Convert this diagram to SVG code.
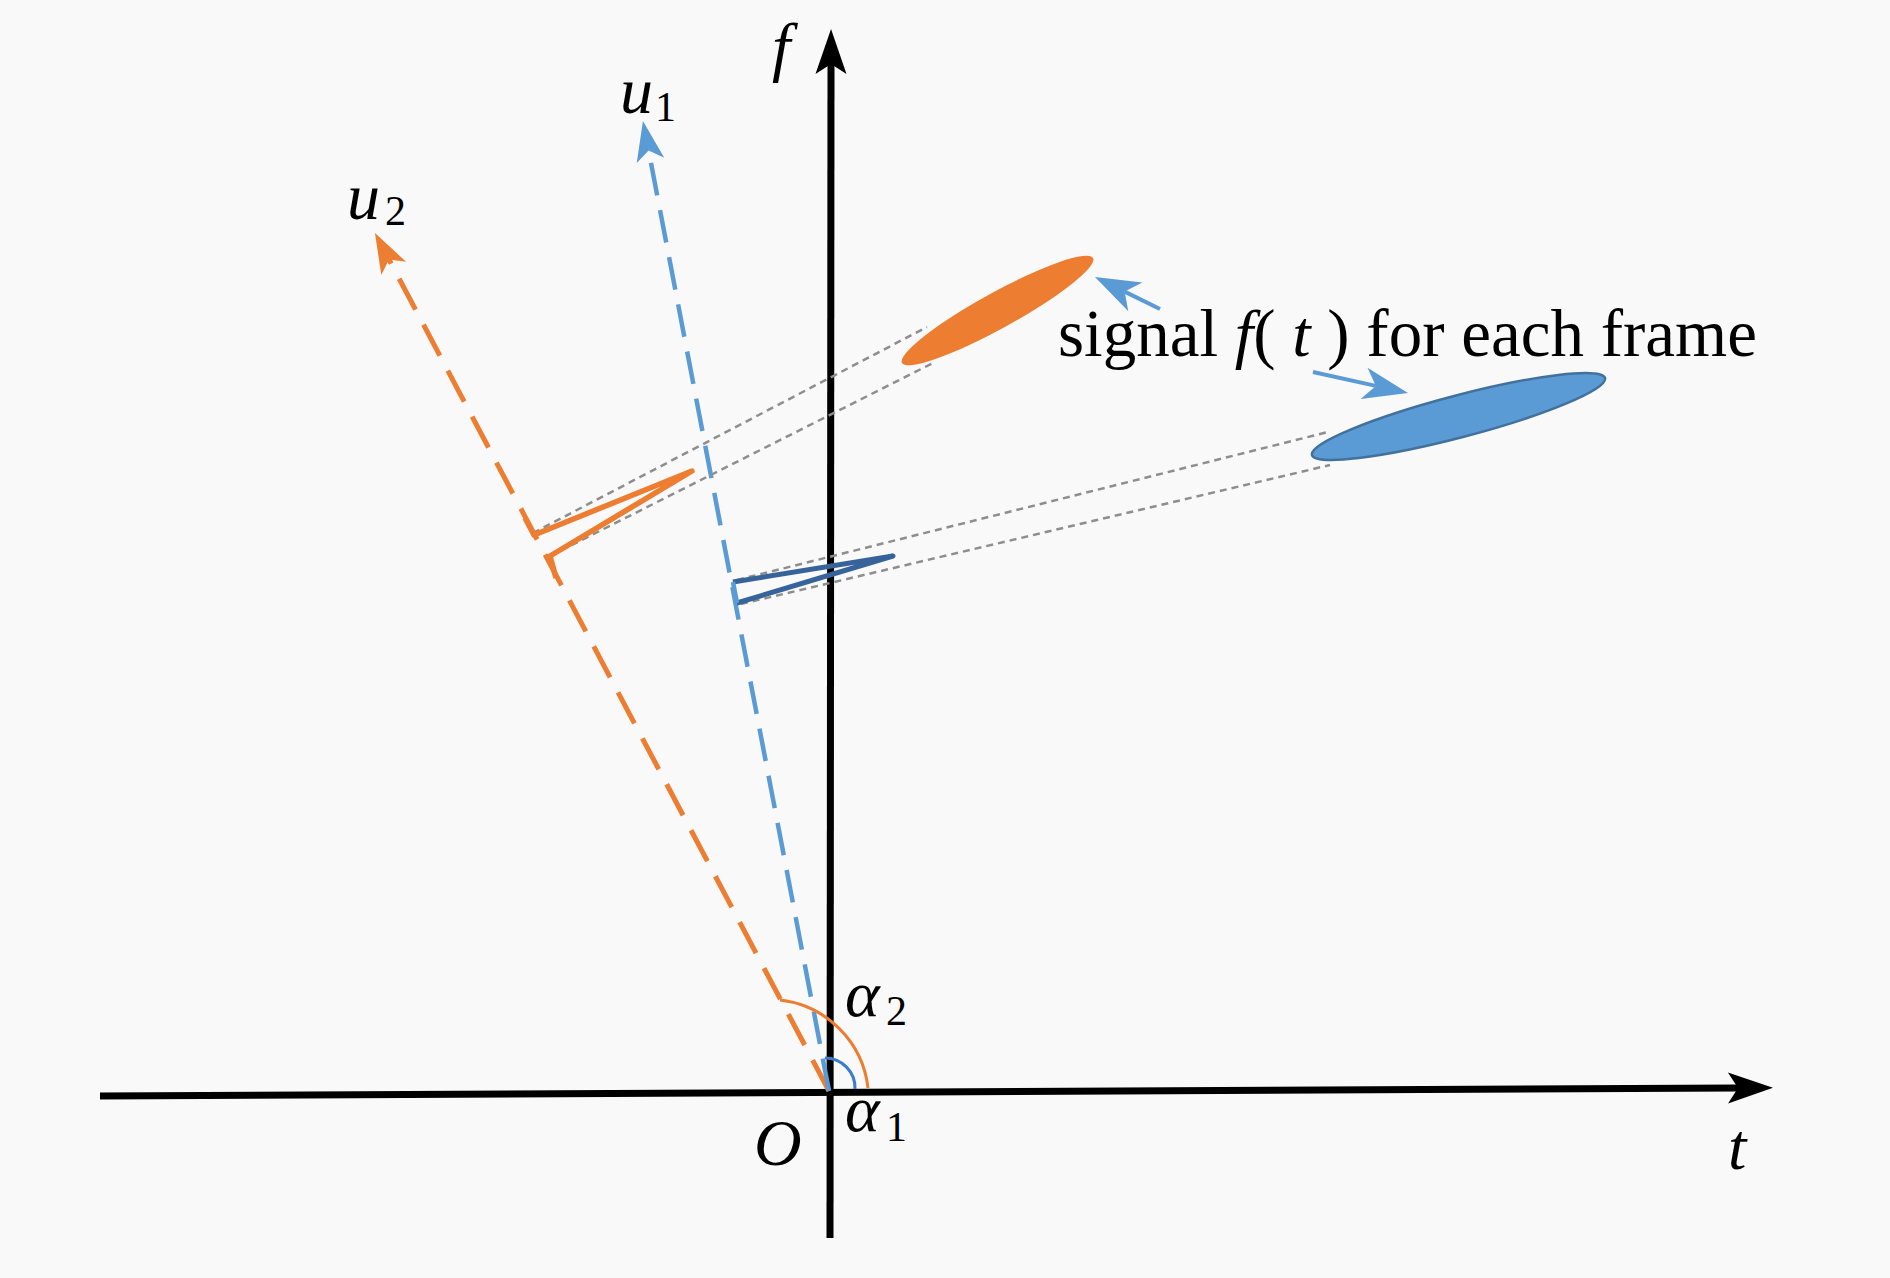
<svg xmlns="http://www.w3.org/2000/svg" width="1890" height="1278" viewBox="0 0 1890 1278">
<style>
.rm{font-family:"Liberation Serif","Times New Roman",serif;font-size:67px;fill:#000}
.it{font-family:"Liberation Serif","Times New Roman",serif;font-style:italic;font-size:66px;fill:#000}
.sub{font-family:"Liberation Serif","Times New Roman",serif;font-size:42px;fill:#000}
.axis{stroke:#000;stroke-width:7;fill:none}
.u1{stroke:#5B9BD5;stroke-width:4.5;fill:none;stroke-dasharray:33 15}
.u2{stroke:#ED7D31;stroke-width:5;fill:none;stroke-dasharray:35 17}
.proj{stroke:#8E8E8E;stroke-width:2.5;fill:none;stroke-dasharray:7 5}
.ptr{stroke:#5B9BD5;stroke-width:4;fill:none}
</style>
<defs>
<marker id="hBlack" markerUnits="userSpaceOnUse" viewBox="-46 -17 48 34" refX="-35" refY="0" markerWidth="48" markerHeight="34" orient="auto" overflow="visible">
<path d="M0,0 L-45,-15.5 L-35,0 L-45,15.5 Z" fill="#000"/>
</marker>
<marker id="hBlue" markerUnits="userSpaceOnUse" viewBox="-46 -17 48 34" refX="-30" refY="0" markerWidth="48" markerHeight="34" orient="auto" overflow="visible">
<path d="M0,0 L-40,-14 L-30,0 L-40,14 Z" fill="#5B9BD5"/>
</marker>
<marker id="hOrange" markerUnits="userSpaceOnUse" viewBox="-46 -17 48 34" refX="-30" refY="0" markerWidth="48" markerHeight="34" orient="auto" overflow="visible">
<path d="M0,0 L-40,-14 L-30,0 L-40,14 Z" fill="#ED7D31"/>
</marker>
<marker id="hPtr" markerUnits="userSpaceOnUse" viewBox="-48 -18 50 36" refX="-33" refY="0" markerWidth="50" markerHeight="36" orient="auto" overflow="visible">
<path d="M0,0 L-45,-16 L-33,0 L-45,16 Z" fill="#5B9BD5"/>
</marker>
</defs>
<rect x="0" y="0" width="1890" height="1278" fill="#F9F9F9"/>

<g id="connectors">
<line class="axis" x1="100" y1="1096" x2="1738" y2="1088" marker-end="url(#hBlack)"/>
<line class="axis" x1="830" y1="1238" x2="831" y2="64" marker-end="url(#hBlack)"/>
<line class="u2" x1="829" y1="1091" x2="389" y2="259.5" marker-end="url(#hOrange)"/>
<line class="u1" x1="829" y1="1091" x2="648.6" y2="150.5" marker-end="url(#hBlue)"/>
<line class="proj" x1="533" y1="533" x2="927" y2="327"/>
<line class="proj" x1="550" y1="556" x2="935" y2="362"/>
<line class="proj" x1="737" y1="580" x2="1328" y2="432"/>
<line class="proj" x1="741" y1="604" x2="1330" y2="465"/>
<line class="ptr" x1="1160" y1="309" x2="1124.6" y2="291.6" marker-end="url(#hPtr)"/>
<line class="ptr" x1="1313" y1="372" x2="1375.8" y2="385.9" marker-end="url(#hPtr)"/>
<path d="M780,1000 A100,100 0 0 1 868,1088" stroke="#ED7D31" stroke-width="3" fill="none"/>
<path d="M825,1058 A30,30 0 0 1 855,1089" stroke="#3D7BD0" stroke-width="3" fill="none"/>
</g>

<g id="signal-orange">
<ellipse cx="997.5" cy="310.5" rx="109" ry="18" transform="rotate(-28.8 997.5 310.5)" fill="#ED7D31"/>
</g>
<g id="signal-blue">
<ellipse cx="1458.5" cy="416.5" rx="151.5" ry="21" transform="rotate(-14.7 1458.5 416.5)" fill="#5B9BD5" stroke="#41719C" stroke-width="2.5"/>
</g>
<g id="projection-u2">
<path d="M525,518 L534,535 L692,471 L550,556 L556,578" stroke="#ED7D31" stroke-width="5.5" fill="none" stroke-linejoin="round"/>
</g>
<g id="projection-u1">
<path d="M737,603 L893,556 L733,582" stroke="#36649A" stroke-width="5" fill="none" stroke-linejoin="round"/>
<path d="M733,582 L737,603" stroke="#5B9BD5" stroke-width="4.5" fill="none"/>
</g>

<g id="label-f"><text class="it" x="772" y="69" font-size="62">f</text></g>
<g id="label-u1"><text class="it" x="620" y="113">u</text><text class="sub" x="655" y="121">1</text></g>
<g id="label-u2"><text class="it" x="347" y="219">u</text><text class="sub" x="385" y="225">2</text></g>
<g id="label-t"><text class="it" x="1728" y="1169">t</text></g>
<g id="label-O"><text class="it" x="754" y="1165">O</text></g>
<g id="label-alpha2"><text class="it" x="845" y="1016">α</text><text class="sub" x="886" y="1025">2</text></g>
<g id="label-alpha1"><text class="it" x="845" y="1131">α</text><text class="sub" x="886" y="1141">1</text></g>
<g id="label-signal"><text class="rm" x="1058" y="356">signal <tspan class="it" font-size="67px">f</tspan>( <tspan class="it" font-size="67px">t</tspan> ) for each frame</text></g>
</svg>
